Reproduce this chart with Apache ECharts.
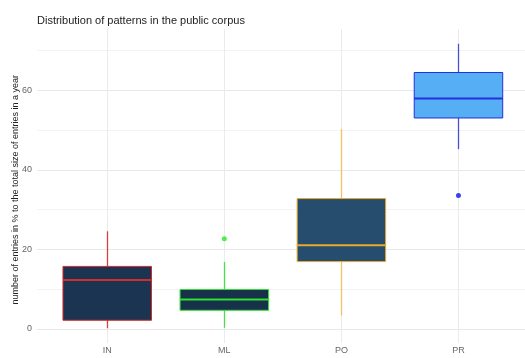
<!DOCTYPE html>
<html>
<head>
<meta charset="utf-8">
<script src="https://cdn.jsdelivr.net/npm/echarts@6/dist/echarts.min.js"></script>
<style>
  html, body { margin: 0; padding: 0; background: #fff; }
  #chart { width: 525px; height: 358px; }
</style>
</head>
<body>
<div id="chart"></div>
<script>
// categories and box statistics
const categories = ['IN', 'ML', 'PO', 'PR'];
const whiskerLow = [0.1, 0.2, 3.3, 45.0];
const q1Values = [2.1, 4.6, 16.8, 52.8];
const medianValues = [12.2, 7.3, 20.9, 57.7];
const q3Values = [15.6, 9.8, 32.6, 64.2];
const whiskerHigh = [24.4, 16.7, 50.0, 71.4];

// outliers
const outlierCats = ['ML', 'PR'];
const outlierValues = [22.5, 33.4];

const yTicks = [0, 10, 20, 30, 40, 50, 60, 70];

// colours per category
const fills = ['#1b3452', '#17314b', '#264d6d', '#56aef5'];
const borders = ['#d42b2b', '#2fe02f', '#e9a92c', '#2330dc'];
const whiskerColors = ['#d84040', '#48e048', '#eec464', '#4a50d2'];
const outlierColors = ['#22ee22', '#1010ee'];

const chart = echarts.init(document.getElementById('chart'));

const boxData = categories.map((c, i) => [i, whiskerLow[i], q1Values[i], medianValues[i], q3Values[i], whiskerHigh[i]]);

// ggplot style box: no whisker caps
const renderBox = (params, api) => {
  const i = api.value(0);
  const x = api.coord([i, 0])[0];
  const band = api.size([1, 0])[0];
  const half = band * 0.378;
  const yLow = api.coord([i, api.value(1)])[1];
  const yQ1 = api.coord([i, api.value(2)])[1];
  const yMed = api.coord([i, api.value(3)])[1];
  const yQ3 = api.coord([i, api.value(4)])[1];
  const yHigh = api.coord([i, api.value(5)])[1];
  const xs = Math.round(x) + 0.5;
  return {
    type: 'group',
    children: [
      { type: 'line', shape: { x1: xs, y1: yHigh, x2: xs, y2: yQ3 }, style: { stroke: whiskerColors[i], lineWidth: 1.3 } },
      { type: 'line', shape: { x1: xs, y1: yQ1, x2: xs, y2: yLow }, style: { stroke: whiskerColors[i], lineWidth: 1.3 } },
      { type: 'rect', shape: { x: x - half, y: yQ3, width: half * 2, height: yQ1 - yQ3 },
        style: { fill: fills[i], stroke: borders[i], lineWidth: 1 } },
      { type: 'line', shape: { x1: x - half, y1: yMed, x2: x + half, y2: yMed }, style: { stroke: borders[i], lineWidth: 2 } }
    ]
  };
};

const option = {
  backgroundColor: '#ffffff',
  animation: false,
  title: {
    text: 'Distribution of patterns in the public corpus',
    left: 32,
    top: 10,
    textStyle: { fontSize: 11, fontWeight: 'normal', color: '#222', fontFamily: 'Liberation Sans' }
  },
  grid: [
    { left: 48.7, right: 8, top: 29, bottom: 15 },   // marks
    { left: 37, right: 0, top: 50.4, bottom: 29 },   // horizontal grid + y labels
    { left: 107.3, right: 66.3, top: 29, bottom: 15 } // vertical grid lines
  ],
  xAxis: [
    {
      type: 'category', gridIndex: 0, data: categories, boundaryGap: true,
      axisLine: { show: false }, axisTick: { show: false }, splitLine: { show: false },
      axisLabel: { margin: 3, fontSize: 9, color: '#666', fontFamily: 'Liberation Sans' }
    },
    { type: 'value', gridIndex: 1, show: false, min: 0, max: 1 },
    {
      type: 'category', gridIndex: 2, data: categories, boundaryGap: false,
      axisLine: { show: false }, axisTick: { show: false }, axisLabel: { show: false },
      splitLine: { show: true, lineStyle: { color: '#ebebeb', width: 1 } }
    }
  ],
  yAxis: [
    { type: 'value', gridIndex: 0, min: -3.6, max: 75.1, show: false, splitLine: { show: false } },
    {
      type: 'value', gridIndex: 1, min: yTicks[0], max: yTicks[yTicks.length - 1], interval: 10,
      name: 'number of entries in % to the total size of entries in a year',
      nameLocation: 'middle', nameRotate: 90, nameGap: 17, nameMoveOverlap: false,
      nameTextStyle: { fontSize: 9, color: '#222', fontFamily: 'Liberation Sans' },
      axisLine: { show: false }, axisTick: { show: false },
      axisLabel: {
        margin: 5, fontSize: 9, color: '#666', fontFamily: 'Liberation Sans',
        formatter: v => (v % 20 === 0 ? String(v) : '')
      },
      splitLine: { show: true, lineStyle: { color: ['#e8e8e8', '#f3f3f3'], width: 1 } }
    },
    { type: 'value', gridIndex: 2, show: false, min: 0, max: 1, splitLine: { show: false } }
  ],
  series: [
    {
      type: 'custom',
      xAxisIndex: 0, yAxisIndex: 0,
      renderItem: renderBox,
      encode: { x: 0, y: [1, 2, 3, 4, 5] },
      data: boxData,
      z: 5
    },
    {
      type: 'scatter',
      xAxisIndex: 0, yAxisIndex: 0,
      symbolSize: 5,
      data: outlierCats.map((c, i) => ({ value: [c, outlierValues[i]], itemStyle: { color: outlierColors[i] } })),
      z: 6
    }
  ]
};

chart.setOption(option);
</script>
</body>
</html>
